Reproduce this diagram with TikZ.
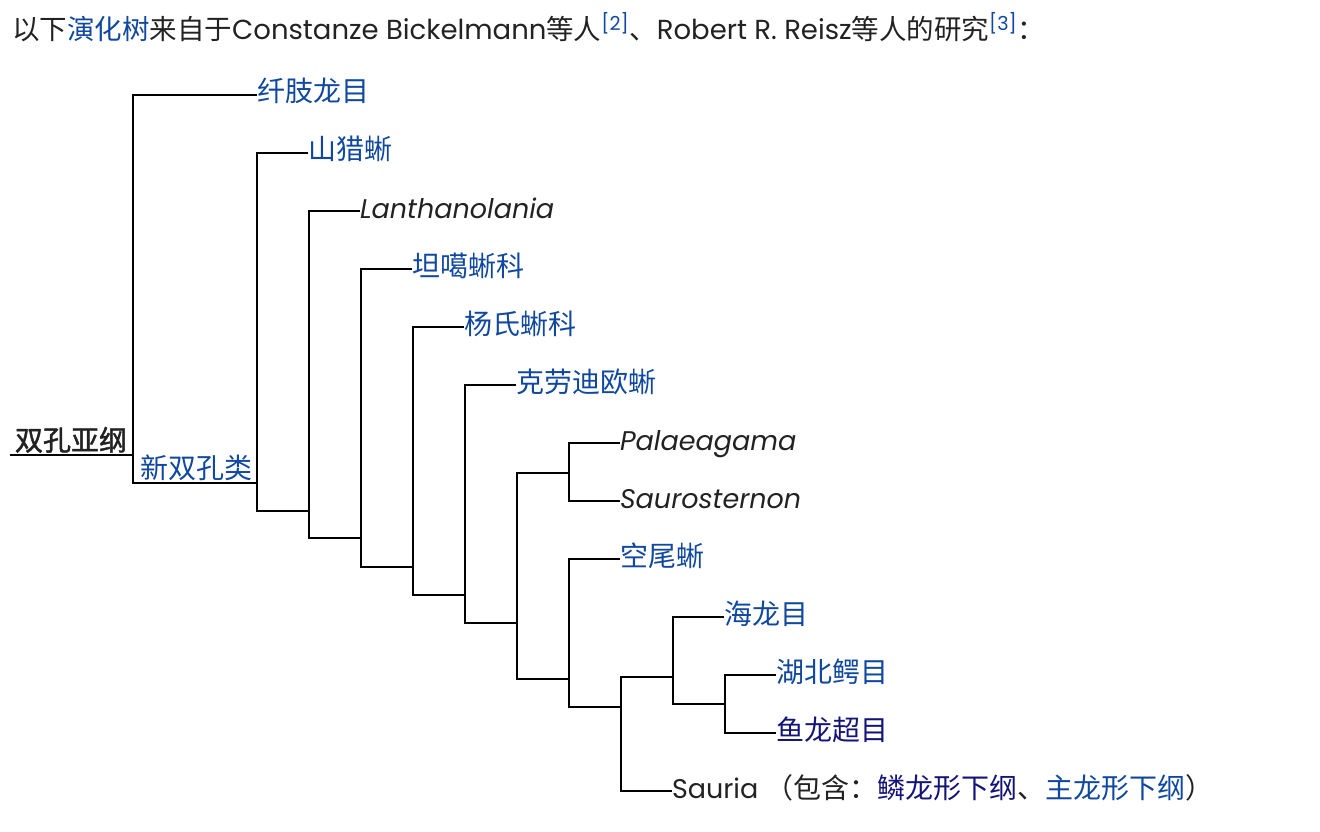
\documentclass[tikz,border=0pt]{standalone}
\usepackage{fontspec}
\setmainfont{Poppins}
\newfontfamily\cjk{Noto Sans CJK SC}
\newfontfamily\cjkheavy{Noto Sans CJK SC}[FakeBold=1.6]
\usetikzlibrary{positioning}
\definecolor{link}{RGB}{16,72,160}
\definecolor{visited}{RGB}{20,20,120}
\definecolor{ink}{RGB}{34,34,34}
\tikzstyle{taxon} = [anchor=west, inner sep=0pt, outer sep=0pt, text height=20pt, text depth=6pt, text=ink, font=\fontsize{27}{30}\selectfont]
\tikzstyle{latin} = [taxon, font=\fontsize{27}{30}\selectfont\itshape]
\tikzstyle{cjklink} = [taxon, text=link, font=\fontsize{28}{30}\selectfont\cjk]
\tikzstyle{branch} = [line width=2.3pt, draw=black]

\begin{document}
\begin{tikzpicture}[x=1pt, y=-1pt]
\useasboundingbox (0,0) rectangle (1320,832);
%标题
\node (title) [anchor=base west, inner sep=0pt, text=ink, font=\fontsize{27.5}{30}\selectfont] at (12,40)
  {{\cjk 以下}{\color{link}\cjk 演化树}{\cjk 来自于}Constanze Bickelmann{\cjk 等人}\textsuperscript{\color{link}[2]}{\cjk 、}Robert R. Reisz{\cjk 等人的研究}\textsuperscript{\color{link}[3]}{\cjk ：}};

%末端类群
\node (acro) [cjklink] at (257,95) {纤肢龙目};
\node (orov) [cjklink] at (308,153) {山猎蜥};
\node (lant) [latin] at (360,211) {Lanthanolania};
\node (tang) [cjklink] at (412,269) {坦噶蜥科};
\node (youn) [cjklink] at (464,327) {杨氏蜥科};
\node (clau) [cjklink] at (516,385) {克劳迪欧蜥};
\node (pala) [latin] at (620,443) {Palaeagama};
\node (saur) [latin] at (620,501) {Saurosternon};
\node (coel) [cjklink] at (620,559) {空尾蜥};
\node (saut) [cjklink] at (724,617) {海龙目};
\node (hupe) [cjklink] at (776,675) {湖北鳄目};
\node (ichth) [cjklink, text=visited] at (776,733) {鱼龙超目};
\node (sauria) [taxon] at (672,791) {Sauria {\fontsize{28}{30}\selectfont\cjk （包含：}{\color{visited}\fontsize{28}{30}\selectfont\cjk 鳞龙形下纲}{\fontsize{28}{30}\selectfont\cjk 、}{\color{link}\fontsize{28}{30}\selectfont\cjk 主龙形下纲}{\fontsize{28}{30}\selectfont\cjk ）}};

%分支点
\coordinate (base) at (10,455);
\coordinate (n1) at (133,455);
\coordinate (n2) at (257,483);
\coordinate (n3) at (309,511);
\coordinate (n4) at (361,538);
\coordinate (n5) at (413,567);
\coordinate (n6) at (465,595);
\coordinate (n7) at (517,623);
\coordinate (n8) at (569,473);
\coordinate (n9) at (569,679);
\coordinate (n10) at (621,707);
\coordinate (n11) at (673,677);
\coordinate (n12) at (725,704);

\node (diap) [anchor=south, inner sep=0pt, text=ink, font=\fontsize{28}{30}\selectfont\cjkheavy] at (71,453) {双孔亚纲};
\node (neod) [anchor=south, inner sep=0pt, text=link, font=\fontsize{28}{30}\selectfont\cjk] at (196,481) {新双孔类};

%连接分支
\draw [branch](base) -- (n1);
\draw [branch](acro.west) -| (n1) |- (n2);
\draw [branch](orov.west) -| (n2) |- (n3);
\draw [branch](lant.west) -| (n3) |- (n4);
\draw [branch](tang.west) -| (n4) |- (n5);
\draw [branch](youn.west) -| (n5) |- (n6);
\draw [branch](clau.west) -| (n6) |- (n7);
\draw [branch](n8) -| (n7) |- (n9);
\draw [branch](pala.west) -| (n8) |- (saur.west);
\draw [branch](coel.west) -| (n9) |- (n10);
\draw [branch](n11) -| (n10) |- (sauria.west);
\draw [branch](saut.west) -| (n11) |- (n12);
\draw [branch](hupe.west) -| (n12) |- (ichth.west);
\end{tikzpicture}
\end{document}
